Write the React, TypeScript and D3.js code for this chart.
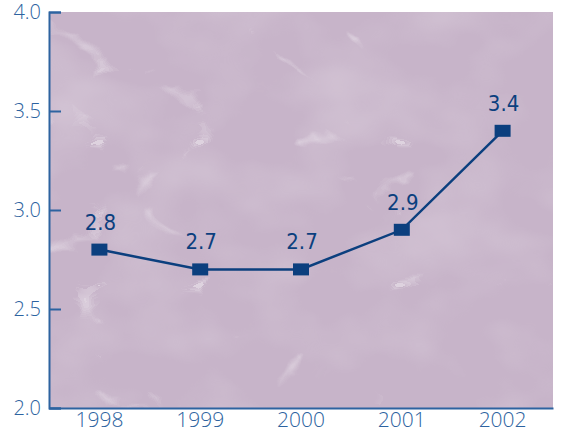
import * as d3 from 'd3';
import React, { useEffect, useRef } from 'react';

const years = ['1998', '1999', '2000', '2001', '2002'];
const values = [2.8, 2.7, 2.7, 2.9, 3.4];
const yTicks = [2.0, 2.5, 3.0, 3.5, 4.0];

export default function App() {
  const ref = useRef<SVGSVGElement>(null);

  useEffect(() => {
    if (!ref.current) return;
    const width = 561;
    const height = 432;
    const left = 49, right = 553, top = 12, bottom = 408;

    const svg = d3.select(ref.current);
    svg.selectAll('*').remove();
    svg.attr('width', width).attr('height', height);

    // marble: cloudy light patches + thin light veins
    const defs = svg.append('defs');
    const clouds = defs.append('filter').attr('id', 'clouds')
      .attr('x', 0).attr('y', 0).attr('width', 1).attr('height', 1);
    clouds.append('feTurbulence')
      .attr('type', 'fractalNoise').attr('baseFrequency', '0.01 0.014')
      .attr('numOctaves', 3).attr('seed', 3).attr('result', 'noise');
    clouds.append('feColorMatrix').attr('in', 'noise').attr('type', 'matrix')
      .attr('values', '0 0 0 0 1  0 0 0 0 1  0 0 0 0 1  1.6 0 0 0 -0.7');
    clouds.append('feComposite').attr('in2', 'SourceGraphic').attr('operator', 'in');

    const veins = defs.append('filter').attr('id', 'veins')
      .attr('x', 0).attr('y', 0).attr('width', 1).attr('height', 1);
    veins.append('feTurbulence')
      .attr('type', 'turbulence').attr('baseFrequency', '0.005 0.007')
      .attr('numOctaves', 4).attr('seed', 21).attr('result', 'noise');
    veins.append('feColorMatrix').attr('in', 'noise').attr('type', 'matrix')
      .attr('values', '0 0 0 0 1  0 0 0 0 1  0 0 0 0 1  -11 0 0 0 1.0')
      .attr('result', 'v');
    veins.append('feGaussianBlur').attr('in', 'v').attr('stdDeviation', 0.5).attr('result', 'soft');
    veins.append('feComposite').attr('in', 'soft').attr('in2', 'SourceGraphic').attr('operator', 'in');

    const x = d3.scaleBand<string>().domain(years).range([left, right]);
    const y = d3.scaleLinear().domain([2, 4]).range([bottom, top]);

    const bg = '#c7b4c9';
    const plot = svg.append('g');
    plot.append('rect')
      .attr('x', left).attr('y', top).attr('width', right - left).attr('height', bottom - top)
      .attr('fill', bg);
    plot.append('rect')
      .attr('x', left).attr('y', top).attr('width', right - left).attr('height', bottom - top)
      .attr('fill', bg).attr('filter', 'url(#clouds)').attr('opacity', 0.25);
    plot.append('rect')
      .attr('x', left).attr('y', top).attr('width', right - left).attr('height', bottom - top)
      .attr('fill', bg).attr('filter', 'url(#veins)').attr('opacity', 0.4);

    const blue = '#2d63a0';
    const navy = '#0b3f7e';

    // y axis
    const yAxis = svg.append('g').attr('transform', `translate(${left},0)`)
      .call(d3.axisLeft(y).tickValues(yTicks).tickFormat(d3.format('.1f')).tickSize(-12).tickPadding(20));
    yAxis.select('.domain').attr('stroke', blue).attr('stroke-width', 2);
    yAxis.selectAll('.tick line').attr('stroke', blue).attr('stroke-width', 2);
    yAxis.selectAll('.tick text')
      .attr('fill', blue).attr('font-size', 20).attr('font-family', '"Open Sans", sans-serif')
      .attr('font-weight', 300).attr('x', -8);

    // x axis
    const xAxis = svg.append('g').attr('transform', `translate(0,${bottom})`)
      .call(d3.axisBottom(x).tickSize(0).tickPadding(4));
    xAxis.select('.domain').attr('stroke', blue).attr('stroke-width', 2);
    xAxis.selectAll('.tick text')
      .attr('fill', blue).attr('font-size', 21).attr('font-family', '"Open Sans", sans-serif')
      .attr('font-weight', 300);

    const cx = (d: string) => (x(d) ?? 0) + x.bandwidth() / 2;

    const line = d3.line<number>().x((_, i) => cx(years[i])).y(d => y(d));
    svg.append('path').datum(values).attr('d', line)
      .attr('fill', 'none').attr('stroke', navy).attr('stroke-width', 2.5);

    svg.selectAll('rect.pt').data(values).enter().append('rect').attr('class', 'pt')
      .attr('x', (_, i) => cx(years[i]) - 8).attr('y', d => y(d) - 6)
      .attr('width', 16).attr('height', 12).attr('fill', navy);

    svg.selectAll('text.lbl').data(values).enter().append('text').attr('class', 'lbl')
      .attr('x', (_, i) => cx(years[i]) + 1).attr('y', d => y(d) - 20)
      .attr('text-anchor', 'middle')
      .attr('font-family', '"Liberation Sans Narrow", "DejaVu Sans Condensed", sans-serif')
      .attr('font-size', 22).attr('fill', navy)
      .text(d => d.toFixed(1));
  }, []);

  return <svg ref={ref} style={{ display: 'block', position: 'absolute', left: 0, top: 0 }} />;
}
